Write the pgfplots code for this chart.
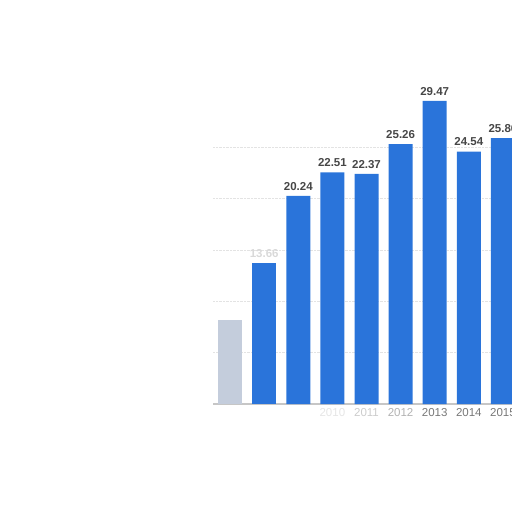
\documentclass[border=0pt]{standalone}
\usepackage{pgfplots}
\pgfplotsset{compat=1.18}
\usepackage{fontspec}
\setmainfont{Liberation Sans}
\definecolor{barblue}{RGB}{42,116,218}
\definecolor{fadeblue}{RGB}{196,205,220}
\definecolor{labgray}{RGB}{70,70,70}
\definecolor{tickgray}{RGB}{120,120,120}
\begin{document}
\begin{tikzpicture}
\clip (0pt,0pt) rectangle (512pt,512pt);
\begin{axis}[
    at={(213pt,108pt)}, anchor=south west,
    scale only axis,
    width=307pt, height=360pt,
    ybar, bar shift=0pt, bar width=24pt,
    xmin=2006.5, xmax=2015.5,
    ymin=0, ymax=35,
    axis x line*=bottom,
    axis y line*=left,
    y axis line style={draw=none},
    x axis line style={draw=gray!45, line width=1.2pt, -},
    xtick={2007,...,2015},
    xticklabels={,,,{\color{gray!20}2010},{\color{gray!40}2011},{\color{gray!60}2012},2013,2014,2015},
    major tick length=0pt,
    xticklabel style={font=\fontsize{11.5}{13}\selectfont, text=tickgray, yshift=-1pt},
    ytick={5,10,15,20,25},
    yticklabels={},
    ymajorgrids,
    grid style={densely dotted, gray!22},
    /pgf/number format/assume math mode=true,
    clip=false,
    ]
\addplot[fill=fadeblue, draw=none] coordinates {(2007,8.2)};
\addplot[fill=barblue, draw=none,
    nodes near coords,
    every node near coord/.append style={font=\bfseries\fontsize{11.5}{13}\selectfont, text=labgray, yshift=2pt,
        /pgf/number format/fixed, /pgf/number format/fixed zerofill, /pgf/number format/precision=2}]
  coordinates {(2009,20.24) (2010,22.51) (2011,22.37) (2012,25.26) (2013,29.47) (2014,24.54) (2015,25.86)};
\addplot[fill=barblue, draw=none,
    nodes near coords,
    every node near coord/.append style={font=\bfseries\fontsize{11.5}{13}\selectfont, text=gray!30, yshift=2pt,
        /pgf/number format/fixed, /pgf/number format/fixed zerofill, /pgf/number format/precision=2}]
  coordinates {(2008,13.66)};
\end{axis}
\end{tikzpicture}
\end{document}
